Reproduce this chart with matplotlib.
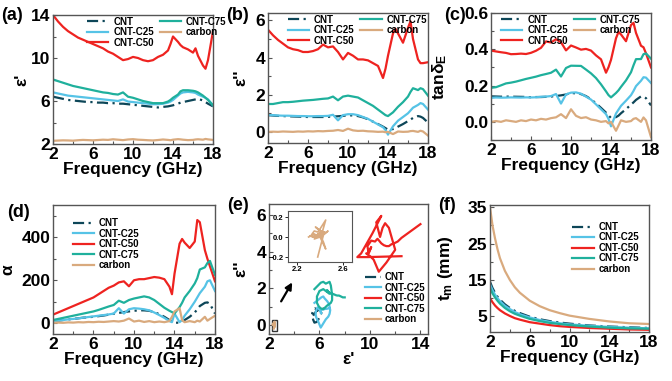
import matplotlib
matplotlib.use("Agg")
import matplotlib.pyplot as plt
from matplotlib.patches import Rectangle
from matplotlib.ticker import MultipleLocator
import numpy as np

plt.rcParams['font.family'] = ['Liberation Sans', 'DejaVu Sans']
plt.rcParams['font.weight'] = 'bold'
plt.rcParams['axes.labelweight'] = 'bold'
plt.rcParams['mathtext.fontset'] = 'custom'
plt.rcParams['mathtext.rm'] = 'Liberation Sans:bold'
plt.rcParams['mathtext.default'] = 'rm'

# frequency grid (GHz)
freq = [2, 2.5, 3, 3.5, 4, 4.5, 5, 5.5, 6, 6.5, 7, 7.5, 8, 8.5, 9, 9.5, 10, 10.5,
        11, 11.5, 12, 12.5, 13, 13.5, 13.75, 14, 14.5, 14.75, 15, 15.5, 16, 16.25,
        16.5, 17, 17.25, 17.5, 18]

# real permittivity
eps1_cnt = [6.4, 6.3, 6.2, 6.1, 6.05, 6.0, 5.95, 5.9, 5.9, 5.85, 5.85, 5.8, 5.8, 5.75, 5.75, 5.7, 5.65, 5.6,
            5.55, 5.5, 5.45, 5.4, 5.45, 5.5, 5.55, 5.6, 5.75, 5.85, 5.9, 6.0, 6.1, 6.15,
            6.2, 6.05, 5.9, 5.75, 5.5]
eps1_c25 = [6.8, 6.7, 6.6, 6.5, 6.45, 6.4, 6.35, 6.3, 6.25, 6.2, 6.15, 6.1, 6.05, 6.0, 6.15, 5.95, 5.9, 5.85,
            5.8, 5.75, 5.7, 5.7, 5.75, 5.85, 5.95, 6.1, 6.5, 6.7, 6.8, 6.85, 6.8, 6.75,
            6.6, 6.4, 6.3, 6.15, 5.6]
eps1_c50 = [14.0, 13.4, 12.9, 12.5, 12.2, 11.9, 11.7, 11.5, 11.3, 11.1, 10.9, 10.6, 10.4, 10.1, 9.8, 9.9, 10.1, 10.0,
            9.8, 9.7, 9.8, 10.1, 10.3, 10.7, 11.3, 12.0, 11.5, 11.2, 11.0, 10.8, 10.5, 10.9,
            10.2, 9.3, 9.0, 9.8, 12.5]
eps1_c75 = [8.0, 7.85, 7.7, 7.55, 7.4, 7.3, 7.2, 7.1, 7.0, 6.9, 6.8, 6.75, 6.65, 6.6, 6.8, 6.4, 6.3, 6.15,
            6.0, 5.9, 5.8, 5.8, 5.8, 5.95, 6.1, 6.3, 6.6, 6.9, 7.0, 7.0, 6.95, 6.9,
            6.8, 6.5, 6.3, 6.1, 5.6]
eps1_carbon = [2.30, 2.32, 2.34, 2.33, 2.31, 2.35, 2.38, 2.36, 2.34, 2.37, 2.40, 2.38, 2.44, 2.40, 2.36, 2.42, 2.45, 2.40,
               2.38, 2.35, 2.33, 2.37, 2.42, 2.38, 2.35, 2.40, 2.45, 2.43, 2.40, 2.36, 2.38, 2.42,
               2.44, 2.40, 2.47, 2.43, 2.38]

# imaginary permittivity
eps2_cnt = [0.9, 0.88, 0.86, 0.85, 0.84, 0.83, 0.82, 0.81, 0.8, 0.8, 0.8, 0.8, 0.81, 0.82, 0.84, 0.86, 0.9, 0.88,
            0.85, 0.78, 0.68, 0.55, 0.42, 0.28, 0.2, 0.12, 0.15, 0.2, 0.28, 0.42, 0.58, 0.66,
            0.75, 0.85, 0.82, 0.75, 0.5]
eps2_c25 = [0.9, 0.9, 0.88, 0.87, 0.87, 0.86, 0.85, 0.85, 0.84, 0.84, 0.85, 0.85, 0.86, 0.92, 0.62, 0.9, 0.95, 0.95,
            0.9, 0.8, 0.7, 0.55, 0.4, 0.25, 0.1, -0.15, 0.3, 0.45, 0.6, 0.8, 1.0, 1.15,
            1.3, 1.45, 1.55, 1.5, 1.2]
eps2_c50 = [5.5, 5.2, 4.95, 4.75, 4.55, 4.45, 4.4, 4.3, 4.3, 4.35, 4.45, 4.7, 4.55, 4.6, 4.3, 3.9, 4.25, 4.1,
            3.9, 3.9, 3.85, 3.7, 3.55, 2.9, 3.4, 4.1, 5.3, 5.55, 5.3, 4.8, 5.6, 5.95,
            5.0, 3.9, 3.7, 3.7, 3.75]
eps2_c75 = [1.5, 1.5, 1.55, 1.6, 1.6, 1.62, 1.65, 1.68, 1.7, 1.72, 1.75, 1.78, 1.8, 1.9, 1.7, 1.9, 1.95, 1.9,
            1.85, 1.7, 1.55, 1.4, 1.2, 1.0, 0.9, 0.85, 1.05, 1.2, 1.35, 1.6, 1.9, 2.15,
            2.35, 2.25, 2.35, 2.3, 1.95]
eps2_carbon = [0.0, 0.01, 0.0, 0.02, 0.01, 0.0, 0.02, 0.01, 0.03, 0.02, 0.04, 0.03, 0.05, 0.06, 0.1, 0.05, 0.17, 0.08,
               0.05, 0.06, 0.03, 0.02, 0.0, 0.01, -0.02, 0.0, -0.12, -0.05, 0.02, 0.0, 0.01, 0.04,
               0.05, 0.0, 0.06, 0.02, -0.2]

# attenuation constant
alpha_cnt = [10, 12, 15, 18, 20, 23, 26, 28, 30, 33, 36, 40, 44, 48, 52, 55, 58, 60,
             60, 58, 52, 42, 30, 15, 8, 2, 3, 8, 15, 30, 50, 65,
             80, 95, 97, 90, 45]
alpha_c25 = [10, 12, 15, 18, 20, 23, 26, 29, 32, 35, 38, 41, 45, 70, 45, 65, 70, 68,
             65, 60, 50, 38, 25, 10, 5, 45, 5, 15, 35, 65, 100, 120,
             140, 170, 195, 200, 150]
alpha_c50 = [40, 50, 60, 70, 80, 90, 100, 110, 120, 135, 150, 165, 175, 190, 195, 172, 200, 205,
             205, 210, 215, 212, 205, 170, 135, 230, 370, 392, 375, 350, 380, 480,
             470, 340, 300, 265, 195]
alpha_c75 = [15, 20, 25, 30, 35, 40, 45, 50, 55, 62, 70, 78, 85, 105, 95, 108, 115, 120,
             125, 120, 108, 90, 72, 58, 52, 45, 75, 95, 120, 150, 185, 210,
             250, 260, 280, 290, 225]
alpha_carbon = [2, 3, 2, 4, 3, 5, 4, 6, 5, 7, 6, 8, 10, 8, 12, 22, 8, 12,
                6, 10, 5, 8, 5, 10, 30, 55, 70, 15, 5, 10, 5, 12,
                8, 30, 12, 20, 35]

# matching thickness
freq_tm = [2, 2.25, 2.5, 2.75, 3, 3.5, 4, 4.5, 5, 6, 7, 8, 9, 10, 12, 14, 16, 18]
tm_cnt = [14.5, 12.8, 11.5, 10.4, 9.6, 8.3, 7.3, 6.5, 5.9, 4.9, 4.2, 3.7, 3.3, 3.0, 2.5, 2.2, 2.0, 1.8]
tm_c25 = [13.8, 12.2, 11.0, 10.0, 9.2, 7.9, 7.0, 6.2, 5.6, 4.7, 4.0, 3.5, 3.1, 2.8, 2.4, 2.1, 1.9, 1.7]
tm_c50 = [10.0, 8.9, 8.0, 7.3, 6.7, 5.8, 5.1, 4.5, 4.1, 3.4, 3.0, 2.6, 2.3, 2.1, 1.8, 1.6, 1.4, 1.3]
tm_c75 = [12.8, 11.3, 10.2, 9.3, 8.5, 7.3, 6.4, 5.7, 5.2, 4.3, 3.7, 3.2, 2.9, 2.6, 2.2, 1.9, 1.7, 1.6]
tm_carbon = [35, 30, 26.5, 23.5, 21, 17.5, 15, 13, 11.5, 9.3, 7.8, 6.7, 5.9, 5.2, 4.3, 3.6, 3.1, 2.9]

names = ['CNT', 'CNT-C25', 'CNT-C50', 'CNT-C75', 'carbon']
colors = ['#0d4658', '#56c3e6', '#ee2320', '#1fb09c', '#d9aa7e']
styles = [(0, (5, 2, 1, 2)), '-', '-', '-', '-']

eps1 = [eps1_cnt, eps1_c25, eps1_c50, eps1_c75, eps1_carbon]
eps2 = [eps2_cnt, eps2_c25, eps2_c50, eps2_c75, eps2_carbon]
tand = [np.array(b) / np.array(a) for a, b in zip(eps1, eps2)]
alpha = [alpha_cnt, alpha_c25, alpha_c50, alpha_c75, alpha_carbon]
tm = [tm_cnt, tm_c25, tm_c50, tm_c75, tm_carbon]

W, H = 672, 381
fig = plt.figure(figsize=(W / 100, H / 100), dpi=100)

def box(l, t, r, b):
    return fig.add_axes([l / W, 1 - b / H, (r - l) / W, (b - t) / H])

FS = 12.5
LW = 1.6

def style(ax):
    for s in ax.spines.values():
        s.set_color('#555555')
        s.set_linewidth(1)
    ax.tick_params(which='both', direction='in', labelsize=FS, width=0.8, color='#555555', pad=2)
    ax.tick_params(which='major', length=3)
    ax.tick_params(which='minor', length=2)

def freq_axis(ax):
    ax.set_xlim(2, 18)
    ax.set_xticks([2, 6, 10, 14, 18])
    ax.xaxis.set_minor_locator(MultipleLocator(2))
    ax.set_xlabel('Frequency (GHz)', fontsize=FS, labelpad=0)

def leg(ax, **kw):
    ax.legend(frameon=False, prop={'size': 7, 'weight': 'bold'}, handlelength=2.2,
              labelspacing=0.05, borderpad=0.2, handletextpad=0.5, **kw)

# (a)
ax = box(53, 15, 213, 144)
style(ax)
for y, n, c, ls in zip(eps1, names, colors, styles):
    ax.plot(freq, y, color=c, ls=ls, lw=LW, label=n)
freq_axis(ax)
ax.set_ylim(2, 14)
ax.set_yticks([2, 6, 10, 14])
ax.yaxis.set_minor_locator(MultipleLocator(2))
ax.set_ylabel("ε'", fontsize=FS)
ax.yaxis.set_label_coords(-0.15, 0.5)
leg(ax, ncol=2, loc='upper left', bbox_to_anchor=(0.17, 1.04), columnspacing=0.6)

# (b)
ax = box(268, 13, 428, 143)
style(ax)
for y, n, c, ls in zip(eps2, names, colors, styles):
    ax.plot(freq, y, color=c, ls=ls, lw=LW, label=n)
freq_axis(ax)
ax.set_ylim(-0.6, 6.4)
ax.set_yticks([0, 2, 4, 6])
ax.yaxis.set_minor_locator(MultipleLocator(1))
ax.set_ylabel("ε''", fontsize=FS)
ax.yaxis.set_label_coords(-0.12, 0.5)
leg(ax, ncol=2, loc='upper left', bbox_to_anchor=(0.08, 1.04), columnspacing=0.6)

# (c)
ax = box(491, 13, 651, 140)
style(ax)
for y, n, c, ls in zip(tand, names, colors, styles):
    ax.plot(freq, y, color=c, ls=ls, lw=LW, label=n)
freq_axis(ax)
ax.set_ylim(-0.1, 0.6)
ax.set_yticks([0.0, 0.2, 0.4, 0.6])
ax.yaxis.set_minor_locator(MultipleLocator(0.1))
ax.set_ylabel('tanδ$_E$', fontsize=FS)
ax.yaxis.set_label_coords(-0.26, 0.5)
leg(ax, ncol=2, loc='upper left', bbox_to_anchor=(0.02, 1.04), columnspacing=0.6)

# (d)
ax = box(53, 205, 215, 334)
style(ax)
for y, n, c, ls in zip(alpha, names, colors, styles):
    ax.plot(freq, y, color=c, ls=ls, lw=LW, label=n)
freq_axis(ax)
ax.set_ylim(-50, 550)
ax.set_yticks([0, 200, 400])
ax.yaxis.set_minor_locator(MultipleLocator(100))
ax.set_ylabel('α', fontsize=FS)
ax.yaxis.set_label_coords(-0.23, 0.5)
leg(ax, loc='upper left', bbox_to_anchor=(0.08, 0.95))

# (e)
ax = box(269, 204, 428, 334)
style(ax)
for a, b, n, c, ls in zip(eps1, eps2, names, colors, styles):
    ax.plot(a, b, color=c, ls=ls, lw=LW, label=n)
ax.set_xlim(2, 14.6)
ax.set_ylim(-0.5, 6.6)
ax.set_xticks([2, 6, 10, 14])
ax.xaxis.set_minor_locator(MultipleLocator(2))
ax.set_yticks([0, 2, 4, 6])
ax.yaxis.set_minor_locator(MultipleLocator(1))
ax.set_xlabel("ε'", fontsize=FS, labelpad=0)
ax.set_ylabel("ε''", fontsize=FS)
ax.yaxis.set_label_coords(-0.13, 0.5)
ax.add_patch(Rectangle((2.2, -0.35), 0.45, 0.62, fill=False, ec='#333333', lw=1))
ax.annotate('', xy=(3.95, 2.45), xytext=(2.85, 1.15),
            arrowprops=dict(arrowstyle='-|>', color='black', lw=1.6, mutation_scale=10))
ax.legend(frameon=False, prop={'size': 7, 'weight': 'bold'}, handlelength=1.6,
          labelspacing=0.05, borderpad=0.1, handletextpad=0.4,
          loc='lower right', bbox_to_anchor=(1.02, 0.03))

ins = box(288, 211, 352, 262)
for s in ins.spines.values():
    s.set_color('#555555')
    s.set_linewidth(0.8)
ins.plot(eps1_carbon, eps2_carbon, color=colors[4], lw=1.2)
ins.set_xlim(2.12, 2.68)
ins.set_ylim(-0.25, 0.26)
ins.set_xticks([2.2, 2.6])
ins.set_yticks([-0.2, 0.0, 0.2])
ins.tick_params(labelsize=5.5, direction='out', length=2, width=0.6, pad=1)

# (f)
ax = box(490, 205, 649, 332)
style(ax)
for y, n, c, ls in zip(tm, names, colors, styles):
    ax.plot(freq_tm, y, color=c, ls=ls, lw=LW, label=n)
freq_axis(ax)
ax.set_ylim(0.7, 35.6)
ax.set_yticks([5, 15, 25, 35])
ax.yaxis.set_minor_locator(MultipleLocator(5))
ax.set_ylabel('t$_m$ (mm)', fontsize=FS)
ax.yaxis.set_label_coords(-0.22, 0.5)
leg(ax, loc='upper right', bbox_to_anchor=(0.98, 0.92))

# panel letters
for lab, x, y in [('(a)', 1, 16), ('(b)', 226, 16), ('(c)', 444, 16),
                  ('(d)', 7, 212), ('(e)', 227, 206), ('(f)', 438, 206)]:
    fig.text(x / W, 1 - y / H, lab, fontsize=13, fontweight='bold', va='center', ha='left')

fig.savefig('out.png', dpi=100)
